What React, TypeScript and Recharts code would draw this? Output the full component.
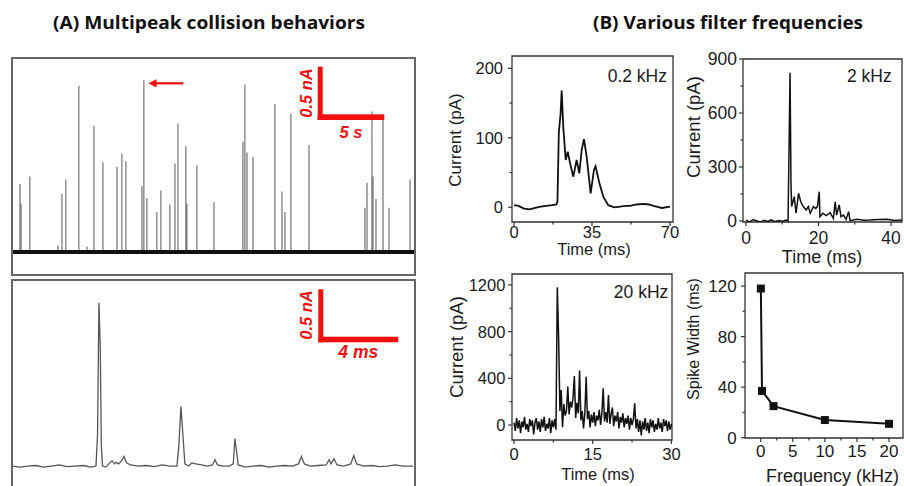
import { ComposedChart, Line, Bar, XAxis, YAxis, ReferenceLine, ReferenceArea } from "recharts"

const AXIS = "#333"
const INK = "#1a1a1a"
const RED = "#f01010"

// (A) upper trace: collision spikes, time (s) and amplitude (nA)
const spikeTimes = [0.62, 0.7, 1.38, 3.54, 3.85, 4.15, 5.15, 5.77, 6.31, 7.0, 8.08, 8.46, 8.77, 10.0, 10.15, 10.38, 11.15, 11.46, 12.15, 12.54, 12.77, 13.38, 13.46, 14.23, 15.54, 17.77, 17.92, 18.08, 18.54, 20.23, 20.77, 21.0, 21.46, 22.85, 27.15, 27.31, 27.69, 27.77, 28.0, 28.54, 29.0, 30.62]
const spikeHeights = [0.63, 0.45, 0.7, 0.06, 0.54, 0.67, 1.54, 0.05, 1.17, 0.83, 0.79, 0.91, 0.84, 0.61, 1.59, 0.5, 0.37, 0.57, 0.44, 0.82, 1.19, 0.98, 0.45, 0.8, 0.46, 1.02, 1.55, 0.92, 0.88, 1.37, 0.56, 0.37, 1.28, 0.99, 0.41, 0.64, 1.3, 0.7, 0.49, 1.23, 0.41, 0.67]

// (A) lower trace: zoom on one event, time (ms) and current (nA)
const zoomTimes = [0.0, 0.4, 0.8, 1.2, 1.6, 2.0, 2.4, 2.8, 3.2, 3.6, 4.0, 4.25, 4.33, 4.4, 4.47, 4.52, 4.58, 4.75, 4.95, 5.06, 5.18, 5.27, 5.4, 5.55, 5.67, 5.8, 6.0, 6.4, 6.8, 7.2, 7.6, 8.0, 8.35, 8.45, 8.55, 8.65, 8.75, 8.95, 9.1, 9.3, 9.6, 9.9, 10.15, 10.28, 10.4, 10.7, 11.0, 11.2, 11.28, 11.36, 11.45, 11.8, 12.2, 12.6, 13.0, 13.4, 13.8, 14.2, 14.5, 14.65, 14.8, 15.1, 15.5, 15.9, 16.05, 16.15, 16.3, 16.45, 16.8, 17.15, 17.3, 17.45, 17.8, 18.2, 18.6, 19.0, 19.4, 19.8, 20.3]
const zoomCurrents = [0.0, -0.01, 0.0, 0.005, -0.01, 0.0, 0.01, -0.005, 0.0, 0.005, -0.01, 0.0, 0.3, 1.54, 1.1, 0.2, 0.0, -0.01, 0.03, 0.05, 0.02, 0.035, 0.02, 0.05, 0.09, 0.03, 0.01, 0.0, 0.005, -0.005, 0.01, 0.0, 0.0, 0.2, 0.56, 0.3, 0.02, 0.0, 0.03, 0.02, 0.01, 0.0, 0.01, 0.06, 0.01, 0.0, 0.0, 0.02, 0.26, 0.15, 0.01, -0.01, 0.0, 0.005, -0.01, 0.0, 0.005, 0.0, 0.02, 0.09, 0.02, 0.0, 0.005, 0.01, 0.06, 0.02, 0.07, 0.01, 0.0, 0.02, 0.1, 0.02, 0.0, 0.005, -0.005, 0.0, 0.01, 0.0, 0.0]

// (B) 0.2 kHz filter
const t02 = [0, 2, 4.5, 7, 9.5, 12, 14.5, 17, 19, 19.5, 20.1, 20.9, 21.4, 22.1, 23.2, 24.1, 25.2, 26.6, 28.1, 29.3, 30.4, 31.4, 32.6, 34.4, 35.9, 36.6, 38.3, 40.1, 42.3, 45, 47.6, 50, 52.1, 55, 58.1, 60.5, 62.6, 66.3, 70]
const i02 = [3, 2, -2, -3, -1, 1, 2, 3, 4, 8, 106, 135, 168, 116, 68, 80, 63, 44, 68, 49, 83, 98, 73, 20, 54, 59, 35, 15, 3, 0, 1, 2, 2, 4, 5, 4, 2, -1, 1]

// (B) 2 kHz filter
const t2k = [0, 1, 2, 3, 4, 5, 6, 7, 8, 9, 10, 11, 11.6, 12.15, 12.4, 12.6, 13.3, 13.8, 14.5, 15.1, 15.8, 16.6, 17.2, 17.7, 18.6, 19.2, 19.7, 20.2, 20.4, 21.2, 22.1, 23.2, 24.1, 24.6, 25.0, 25.7, 26.2, 26.9, 27.6, 28.3, 28.7, 30.6, 32.5, 34.2, 36.5, 38.9, 41, 43]
const i2k = [5, -5, 8, 0, -6, 4, -3, 6, -4, 3, -2, 5, 0, 824, 209, 80, 135, 43, 154, 107, 80, 61, 80, 43, 80, 70, 80, 163, 24, 43, 30, 46, 15, 107, 33, 89, 24, 33, 9, 52, 2, 9, 4, 5, 8, 9, 3, 5]

// (B) 20 kHz filter
const t20k = [0, 0.25, 0.5, 0.75, 1, 1.25, 1.5, 1.75, 2, 2.25, 2.5, 2.75, 3, 3.25, 3.5, 3.75, 4, 4.25, 4.5, 4.75, 5, 5.25, 5.5, 5.75, 6, 6.25, 6.5, 6.75, 7, 7.25, 7.5, 7.75, 8, 8.25, 8.5, 8.75, 9, 9.25, 9.5, 9.75, 10, 10.25, 10.5, 10.75, 11, 11.25, 11.5, 11.75, 12, 12.25, 12.5, 12.75, 13, 13.25, 13.5, 13.75, 14, 14.25, 14.5, 14.75, 15, 15.25, 15.5, 15.75, 16, 16.25, 16.5, 16.75, 17, 17.25, 17.5, 17.75, 18, 18.25, 18.5, 18.75, 19, 19.25, 19.5, 19.75, 20, 20.25, 20.5, 20.75, 21, 21.25, 21.5, 21.75, 22, 22.25, 22.5, 22.75, 23, 23.25, 23.5, 23.75, 24, 24.25, 24.5, 24.75, 25, 25.25, 25.5, 25.75, 26, 26.25, 26.5, 26.75, 27, 27.25, 27.5, 27.75, 28, 28.25, 28.5, 28.75, 29, 29.25, 29.5, 29.75, 30]
const i20k = [20, -50, 60, -30, 40, -70, 30, -20, 70, -40, 10, -60, 50, -10, 40, -80, 20, 60, -40, 30, -60, 50, -20, 70, -50, 10, -30, 60, -70, 40, -20, 50, -40, 1180, 760, 120, 300, -20, 180, 80, 120, 330, 90, 200, 150, 230, 420, 60, 190, 100, 466, 40, 120, -30, 100, 414, 50, 120, -20, 90, 20, 110, -10, 80, 40, 130, 0, 100, 314, 30, 110, 20, 257, 10, 90, 150, -10, 80, 30, 110, -30, 70, 20, 100, -20, 60, 10, 80, -40, 60, 0, 50, 186, -30, 50, -60, 40, -90, 30, -40, 60, -50, 20, -70, 50, -20, 40, -60, 10, -40, 60, -30, 20, -60, 50, -10, 40, -50, 30, -40, 10]

// (B) spike width vs filter frequency
const frequencies = [0.02, 0.2, 2, 10, 20]
const spikeWidths = [118, 37, 25, 14, 11]

const spikeData = spikeTimes.map((t, i) => ({ t, h: spikeHeights[i] }))
const zoomData = zoomTimes.map((t, i) => ({ t, v: zoomCurrents[i] }))
const data02 = t02.map((x, i) => ({ x, y: i02[i] }))
const data2k = t2k.map((x, i) => ({ x, y: i2k[i] }))
const data20k = t20k.map((x, i) => ({ x, y: i20k[i] }))
const widthData = frequencies.map((x, i) => ({ x, y: spikeWidths[i] }))

function xTick(major: number[], gap: number, size: number) {
  return (p: any) => {
    const v = p.payload.value
    const isMajor = major.includes(v)
    return (
      <g>
        <line x1={p.x} y1={p.y} x2={p.x} y2={p.y + (isMajor ? 4 : 2.5)} stroke={AXIS} strokeWidth={1.2} />
        {isMajor && (
          <text x={p.x} y={p.y + gap} dy="0.71em" textAnchor="middle" fontSize={size} fill={INK}>
            {v}
          </text>
        )}
      </g>
    )
  }
}

function yTick(major: number[], gap: number, size: number) {
  return (p: any) => {
    const v = p.payload.value
    const isMajor = major.includes(v)
    return (
      <g>
        <line x1={p.x} y1={p.y} x2={p.x - (isMajor ? 4 : 2.5)} y2={p.y} stroke={AXIS} strokeWidth={1.2} />
        {isMajor && (
          <text x={p.x - gap} y={p.y} dy="0.36em" textAnchor="end" fontSize={size} fill={INK}>
            {v}
          </text>
        )}
      </g>
    )
  }
}

type Box = { l: number; t: number; r: number; b: number }

interface PanelProps {
  left: number
  box: Box
  data: { x: number; y: number }[]
  xDomain: [number, number]
  yDomain: [number, number]
  xTicks: number[]
  xMajor: number[]
  yTicks: number[]
  yMajor: number[]
  xGap: number
  yGap: number
  fontSize: number
  children: React.ReactNode
}

// extra room around the plot box so edge tick labels are not cut
const PAD_TOP = 12
const PAD_RIGHT = 14

function FilterPanel(p: PanelProps) {
  const top = p.box.t - PAD_TOP
  return (
    <div style={{ position: "absolute", left: p.left, top }}>
      <ComposedChart
        width={p.box.r - p.left + PAD_RIGHT}
        height={p.box.b - top + 32}
        data={p.data}
        margin={{ top: PAD_TOP, right: PAD_RIGHT, bottom: 0, left: 0 }}
      >
        <XAxis
          type="number"
          dataKey="x"
          domain={p.xDomain}
          ticks={p.xTicks}
          interval={0}
          allowDataOverflow
          height={32}
          axisLine={false}
          tickLine={false}
          tickSize={0}
          tickMargin={0}
          tick={xTick(p.xMajor, p.xGap, p.fontSize)}
        />
        <YAxis
          type="number"
          domain={p.yDomain}
          ticks={p.yTicks}
          interval={0}
          allowDataOverflow
          width={p.box.l - p.left}
          axisLine={false}
          tickLine={false}
          tickSize={0}
          tickMargin={0}
          tick={yTick(p.yMajor, p.yGap, p.fontSize)}
        />
        <ReferenceArea
          x1={p.xDomain[0]}
          x2={p.xDomain[1]}
          y1={p.yDomain[0]}
          y2={p.yDomain[1]}
          fill="none"
          stroke={AXIS}
          strokeWidth={1.3}
          ifOverflow="visible"
        />
        {p.children}
      </ComposedChart>
    </div>
  )
}

const squareDot = (p: any) => (
  <rect key={p.index} x={p.cx - 4} y={p.cy - 4} width={8} height={8} fill="#111" />
)

export default function App() {
  return (
    <div
      style={{
        position: "fixed",
        left: 0,
        top: 0,
        width: 904,
        height: 486,
        overflow: "hidden",
        background: "#fff",
        fontFamily: "'Liberation Sans', Arial, sans-serif",
      }}
    >
      {/* (A) upper: spikes over 31 s */}
      <div style={{ position: "absolute", left: 11, top: 57, width: 401, height: 215, border: "2px solid #666" }}>
        <ComposedChart width={401} height={215} data={spikeData} margin={{ top: 0, right: 0, bottom: 0, left: 0 }}>
          <XAxis type="number" dataKey="t" domain={[0.08, 30.92]} hide allowDataOverflow />
          <YAxis type="number" domain={[-0.204, 1.787]} hide allowDataOverflow />
          <Bar dataKey="h" fill="#4a4a4a" barSize={1.6} isAnimationActive={false} />
          <ReferenceLine y={0} stroke="#111" strokeWidth={4} />
        </ComposedChart>
      </div>

      {/* (A) lower: zoom on a multipeak event */}
      <div style={{ position: "absolute", left: 11, top: 279, width: 401, height: 216, border: "2px solid #666" }}>
        <ComposedChart width={401} height={216} data={zoomData} margin={{ top: 0, right: 0, bottom: 0, left: 0 }}>
          <XAxis type="number" dataKey="t" domain={[0.05, 20.35]} hide allowDataOverflow />
          <YAxis type="number" domain={[-0.292, 1.745]} hide allowDataOverflow />
          <Line dataKey="v" type="linear" stroke="#555" strokeWidth={1.3} dot={false} isAnimationActive={false} />
        </ComposedChart>
      </div>

      <FilterPanel
        left={440}
        box={{ l: 512, t: 56, r: 673, b: 222 }}
        data={data02}
        xDomain={[-0.9, 71.35]}
        yDomain={[-21.2, 217.7]}
        xTicks={[0, 17.5, 35, 52.5, 70]}
        xMajor={[0, 35, 70]}
        yTicks={[0, 50, 100, 150, 200]}
        yMajor={[0, 100, 200]}
        xGap={4.5}
        yGap={9}
        fontSize={16.5}
      >
        <Line dataKey="y" type="linear" stroke="#111" strokeWidth={1.8} dot={false} isAnimationActive={false} />
      </FilterPanel>

      <FilterPanel
        left={670}
        box={{ l: 743, t: 59, r: 902, b: 222 }}
        data={data2k}
        xDomain={[-0.83, 43.03]}
        yDomain={[-5.6, 900]}
        xTicks={[0, 10, 20, 30, 40]}
        xMajor={[0, 20, 40]}
        yTicks={[0, 150, 300, 450, 600, 750, 900]}
        yMajor={[0, 300, 600, 900]}
        xGap={9.5}
        yGap={6}
        fontSize={17.5}
      >
        <Line dataKey="y" type="linear" stroke="#111" strokeWidth={1.5} dot={false} isAnimationActive={false} />
      </FilterPanel>

      <FilterPanel
        left={440}
        box={{ l: 512, t: 274, r: 672, b: 440 }}
        data={data20k}
        xDomain={[-0.38, 30.11]}
        yDomain={[-128.6, 1294]}
        xTicks={[0, 7.5, 15, 22.5, 30]}
        xMajor={[0, 15, 30]}
        yTicks={[0, 200, 400, 600, 800, 1000, 1200]}
        yMajor={[0, 400, 800, 1200]}
        xGap={8}
        yGap={6.6}
        fontSize={16.5}
      >
        <Line dataKey="y" type="linear" stroke="#111" strokeWidth={1.5} dot={false} isAnimationActive={false} />
      </FilterPanel>

      <FilterPanel
        left={670}
        box={{ l: 745, t: 273, r: 903, b: 438 }}
        data={widthData}
        xDomain={[-2.45, 22.18]}
        yDomain={[-0.2, 130.3]}
        xTicks={[0, 2.5, 5, 7.5, 10, 12.5, 15, 17.5, 20]}
        xMajor={[0, 5, 10, 15, 20]}
        yTicks={[0, 20, 40, 60, 80, 100, 120]}
        yMajor={[0, 40, 80, 120]}
        xGap={7}
        yGap={8.3}
        fontSize={17}
      >
        <Line dataKey="y" type="linear" stroke="#111" strokeWidth={2} dot={squareDot} isAnimationActive={false} />
      </FilterPanel>

      {/* titles, scale bars, axis titles and panel tags */}
      <svg width={904} height={486} style={{ position: "absolute", left: 0, top: 0, pointerEvents: "none" }}>
        <g fontFamily="'Open Sans', sans-serif" fontWeight={700} fontSize={17.5} fill="#111">
          <text x={209} y={29.3} textAnchor="middle" textLength={312} lengthAdjust="spacingAndGlyphs">
            (A) Multipeak collision behaviors
          </text>
          <text x={728} y={29.3} textAnchor="middle" textLength={270} lengthAdjust="spacingAndGlyphs">
            (B) Various filter frequencies
          </text>
        </g>

        <g fill={RED}>
          <rect x={317.7} y={66.7} width={5} height={53.3} />
          <rect x={317.7} y={114.3} width={66.6} height={5.7} />
          <rect x={318.3} y={289.3} width={5} height={53} />
          <rect x={318.3} y={336.7} width={80} height={5.6} />
          <line x1={183.3} y1={83.3} x2={154} y2={83.3} stroke={RED} strokeWidth={2.3} />
          <polygon points="148.3,83.3 156.5,79.3 156.5,87.5" />
        </g>
        <g fill={RED} fontWeight={700} fontStyle="italic" fontSize={16.5}>
          <text x={311.7} y={93} textAnchor="middle" transform="rotate(-90 311.7 93)">0.5 nA</text>
          <text x={351} y={138.3} textAnchor="middle">5 s</text>
          <text x={311.7} y={315} textAnchor="middle" transform="rotate(-90 311.7 315)">0.5 nA</text>
          <text x={358.3} y={358.3} textAnchor="middle" fontSize={17.5}>4 ms</text>
        </g>

        <g fill={INK}>
          <text x={667} y={82} textAnchor="end" fontSize={17.5}>0.2 kHz</text>
          <text x={891.7} y={82.3} textAnchor="end" fontSize={17.5}>2 kHz</text>
          <text x={668.3} y={298.3} textAnchor="end" fontSize={17.5}>20 kHz</text>

          <text x={455} y={140} dy="0.36em" textAnchor="middle" fontSize={17} transform="rotate(-90 455 140)">Current (pA)</text>
          <text x={594} y={255} textAnchor="middle" fontSize={16.5}>Time (ms)</text>
          <text x={693} y={127} dy="0.36em" textAnchor="middle" fontSize={18.5} transform="rotate(-90 693 127)">Current (pA)</text>
          <text x={822} y={263} textAnchor="middle" fontSize={18}>Time (ms)</text>
          <text x={456} y={347} dy="0.36em" textAnchor="middle" fontSize={18.5} transform="rotate(-90 456 347)">Current (pA)</text>
          <text x={598} y={480} textAnchor="middle" fontSize={16.5}>Time (ms)</text>
          <text x={693} y={339} dy="0.36em" textAnchor="middle" fontSize={16} transform="rotate(-90 693 339)">Spike Width (ms)</text>
          <text x={832.5} y={482} textAnchor="middle" fontSize={18}>Frequency (kHz)</text>
        </g>
      </svg>
    </div>
  )
}
